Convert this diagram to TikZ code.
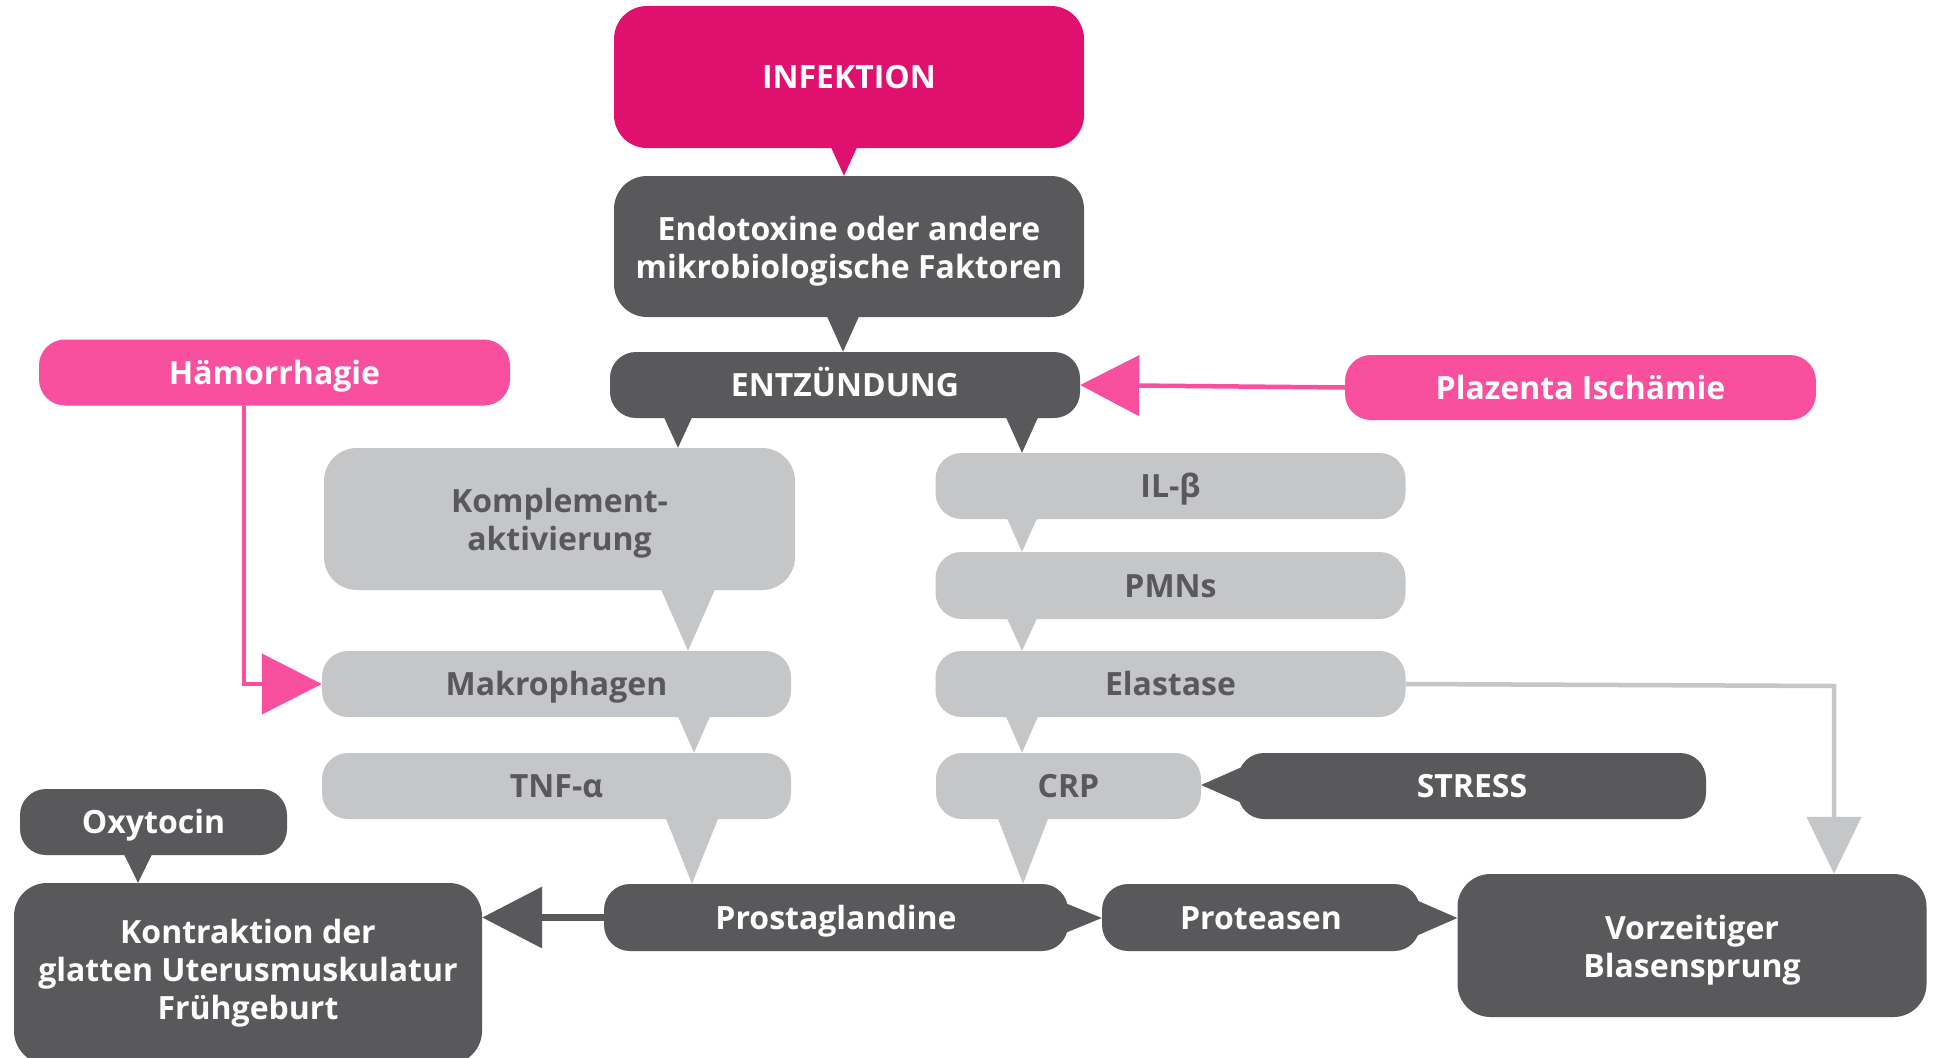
\documentclass[tikz,border=0pt]{standalone}
\usepackage{fontspec}
\setmainfont{Open Sans}
\usetikzlibrary{calc,arrows.meta}
\definecolor{magent}{HTML}{E0106F}
\definecolor{pinkc}{HTML}{F84F9F}
\definecolor{darkg}{HTML}{59595B}
\definecolor{lightg}{HTML}{C5C6C8}
\newcommand\pdown[5]{%
  \fill[#5] ($(#1.south -| #3,0)+(-#4,-3)$) -- ($(#1.south -| #3,0)+(#4,-3)$) -- (#2.north -| #3,0) -- cycle;}
\newcommand\pright[5]{%
  \fill[#5] ($(#1.east |- 0,#3)+(-3,-#4)$) -- ($(#1.east |- 0,#3)+(-3,#4)$) -- (#2.west |- 0,#3) -- cycle;}
\newcommand\pleft[5]{%
  \fill[#5] ($(#1.west |- 0,#3)+(3,-#4)$) -- ($(#1.west |- 0,#3)+(3,#4)$) -- (#2.east |- 0,#3) -- cycle;}
\newcommand\topstrut{\rule{0pt}{33pt}}
\begin{document}
\begin{tikzpicture}[x=1pt,y=-1pt,
  every node/.style={font=\fontsize{32}{38}\selectfont\bfseries, align=center, inner sep=0pt},
  bx/.style={rectangle, rounded corners=26pt, text height=23pt, text depth=0pt},
  bigbx/.style={rectangle, rounded corners=33pt},
  magbox/.style={fill=magent, text=white},
  pinkbox/.style={fill=pinkc, text=white},
  darkbox/.style={fill=darkg, text=white},
  lightbox/.style={fill=lightg, text=darkg},
  pinkline/.style={draw=pinkc, line width=4.5pt},
  darkline/.style={draw=darkg, line width=7pt},
  lightline/.style={draw=lightg, line width=4.5pt},
]
\fill[white] (0,0) rectangle (1937,1057);
\useasboundingbox (0,0) rectangle (1937,1057);

% nodes
\node[bigbx, magbox, minimum width=470pt, minimum height=142pt] (infek) at (849,77) {INFEKTION};
\node[bigbx, darkbox, minimum width=470pt, minimum height=141pt] (endo) at (849,246.5) {\topstrut Endotoxine oder andere\\mikrobiologische Faktoren};
\node[bx, darkbox, minimum width=470pt, minimum height=66pt] (entz) at (845,385) {ENTZÜNDUNG};
\node[bx, pinkbox, minimum width=471pt, minimum height=66pt] (haem) at (274.5,372.5) {Hämorrhagie};
\node[bx, pinkbox, minimum width=471pt, minimum height=65pt] (plaz) at (1580.5,387.5) {Plazenta Ischämie};
\node[bigbx, lightbox, minimum width=471pt, minimum height=142pt] (kompl) at (559.5,519) {\topstrut Komplement-\\aktivierung};
\node[bx, lightbox, minimum width=469pt, minimum height=66pt] (makro) at (556.5,684) {Makrophagen};
\node[bx, lightbox, minimum width=469pt, minimum height=66pt] (tnf) at (556.5,786) {TNF-α};
\node[bx, lightbox, minimum width=470pt, minimum height=66pt] (ilb) at (1170.5,486) {IL-β};
\node[bx, lightbox, minimum width=470pt, minimum height=67pt] (pmn) at (1170.5,585.5) {PMNs};
\node[bx, lightbox, minimum width=470pt, minimum height=66pt] (elast) at (1170.5,684) {Elastase};
\node[bx, lightbox, minimum width=265pt, minimum height=66pt] (crp) at (1068.5,786) {CRP};
\node[bx, darkbox, minimum width=468pt, minimum height=66pt] (stress) at (1472,786) {STRESS};
\node[bx, darkbox, minimum width=267pt, minimum height=66pt] (oxy) at (153.5,822) {Oxytocin};
\node[bigbx, darkbox, minimum width=468pt, minimum height=181pt] (kontr) at (248,973.5) {Kontraktion der\\glatten Uterusmuskulatur\\Frühgeburt};
\node[bx, darkbox, minimum width=464pt, minimum height=67pt] (prosta) at (836,917.5) {Prostaglandine};
\node[bx, darkbox, minimum width=318pt, minimum height=67pt] (prot) at (1261,917.5) {Proteasen};
\node[bigbx, darkbox, minimum width=469pt, minimum height=143pt] (vorz) at (1692,945.5) {\topstrut Vorzeitiger\\Blasensprung};

% speech-bubble pointers
\pdown{infek}{endo}{844}{14}{magent}
\pdown{endo}{entz}{843}{17}{darkg}
\pdown{entz}{kompl}{678}{15}{darkg}
\pdown{entz}{ilb}{1022}{17}{darkg}
\pdown{kompl}{makro}{688}{28}{lightg}
\pdown{makro}{tnf}{694}{17}{lightg}
\pdown{tnf}{prosta}{692}{27}{lightg}
\pdown{ilb}{pmn}{1022}{16}{lightg}
\pdown{pmn}{elast}{1022}{16}{lightg}
\pdown{elast}{crp}{1022}{17}{lightg}
\pdown{crp}{prosta}{1023}{26}{lightg}
\pdown{oxy}{kontr}{138}{15}{darkg}
\pright{prosta}{prot}{918}{15}{darkg}
\pright{prot}{vorz}{918}{17.5}{darkg}
\pleft{stress}{crp}{785}{17.5}{darkg}

% connectors
\draw[pinkline, -{Triangle[length=59pt,width=60pt]}] (plaz.west) -- (entz.east);
\draw[pinkline, -{Triangle[length=60pt,width=60pt]}] (haem.south -| 244,0) |- (makro.west);
\draw[darkline, -{Triangle[length=60pt,width=60pt]}] (prosta.west) -- (kontr.east |- prosta.west);
\coordinate (ecorner) at (1834,686);
\draw[lightline, -{Triangle[length=57pt,width=54pt]}] (elast.east) -- (ecorner) -- (vorz.north -| ecorner);
\end{tikzpicture}
\end{document}
